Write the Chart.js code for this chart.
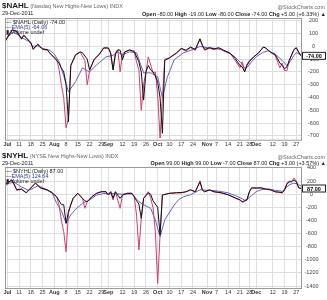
<!DOCTYPE html>
<html>
<head>
<meta charset="utf-8">
<script src="https://cdn.jsdelivr.net/npm/chart.js@4.4.0/dist/chart.umd.min.js"></script>
<style>
body{margin:0;background:#fff;width:327px;height:300px;position:relative;overflow:hidden;font-family:"Liberation Sans",Arial,sans-serif;color:#222}
.panel{position:absolute;left:0;width:327px;height:150px}
.panel canvas{position:absolute;left:0;top:0}
.t{position:absolute;white-space:nowrap;line-height:1;font-size:5.5px}
.big{font-size:8px;font-weight:bold}
.g{color:#666}
.blue{color:#2a3a9a}
</style>
</head>
<body>
<div class="panel" style="top:0">
  <canvas id="topChart" width="327" height="150"></canvas>
  <div class="t" style="left:2px;top:2px"><span class="big">$NAHL</span> <span class="g">(Nasdaq New Highs-New Lows) INDX</span></div>
  <div class="t" style="left:2px;top:11px">29-Dec-2011</div>
  <div class="t g" style="right:2px;top:5px">@StockCharts.com</div>
  <div class="t" style="right:1px;top:11.5px"><b>Open</b> -80.00 <b>High</b> -19.00 <b>Low</b> -80.00 <b>Close</b> -74.00 <b>Chg</b> +5.00 (+6.33%) ▲</div>
  <div class="t" style="left:6px;top:19.5px">— $NAHL (Daily) -74.00</div>
  <div class="t blue" style="left:6px;top:24.5px">—EMA(5) -64.06</div>
  <div class="t" style="left:6px;top:29.5px">▮ Volume undef</div>
</div>
<div class="panel" style="top:150px">
  <canvas id="botChart" width="327" height="150"></canvas>
  <div class="t" style="left:2px;top:2px"><span class="big">$NYHL</span> <span class="g">(NYSE New Highs-New Lows) INDX</span></div>
  <div class="t" style="left:2px;top:10.5px">29-Dec-2011</div>
  <div class="t g" style="right:2px;top:5px">@StockCharts.com</div>
  <div class="t" style="right:1px;top:11px"><b>Open</b> 99.00 <b>High</b> 99.00 <b>Low</b> -7.00 <b>Close</b> 87.00 <b>Chg</b> +3.00 (+3.57%) ▲</div>
  <div class="t" style="left:6px;top:18.5px">— $NYHL (Daily) 87.00</div>
  <div class="t blue" style="left:6px;top:23.5px">—EMA(5) 124.64</div>
  <div class="t" style="left:6px;top:28.5px">▮ Volume undef</div>
</div>
<script>
// trading day index: 0 = 1-Jul-2011 ... 125 = 29-Dec-2011
const tickDays = [0,5,10,15,20,25,30,35,40,43,49,54,59,64,69,74,79,85,89,94,99,103,106,113,118,123];
const tickText = ['Jul','11','18','25','Aug','8','15','22','29','Sep','12','19','26','Oct','10','17','24','Nov','7','14','21','28','Dec','12','19','27'];

// $NAHL  [day, value]
const nahlLine = [[-1,40],[2,130],[4,120],[6,60],[7,85],[10,30],[11,-20],[13,15],[15,-20],[17,-25],[18,-50],[20,-90],[22,-130],[23,-170],[24,-200],[25,-300],[26,-590],[27,-150],[29,-66],[31,-43],[32,-50],[34,-100],[35,-184],[37,-100],[39,-66],[41,-12],[43,-12],[44,-50],[45,-184],[46,-60],[47,-27],[48,-30],[49,-105],[50,-43],[52,-27],[54,-40],[56,-121],[57,-200],[58,-420],[59,-199],[60,-150],[61,-184],[62,-200],[63,-230],[64,-280],[65,-400],[66,-680],[67,-110],[69,-90],[72,-50],[74,-15],[76,-30],[78,-5],[80,-25],[82,60],[83,10],[84,-25],[86,-10],[88,-20],[90,-10],[92,-30],[95,-55],[97,-95],[99,-150],[100,-160],[101,-200],[102,-150],[103,-120],[105,-80],[107,-50],[109,-5],[110,-12],[112,-45],[114,-65],[116,-130],[117,-150],[118,-175],[119,-160],[120,-110],[122,-25],[123,-10],[124,-45],[125,-74]];
const nahlRed = [[-1,35],[2,125],[4,115],[6,55],[7,90],[10,25],[11,-25],[13,20],[15,-25],[17,-30],[19,-70],[21,-100],[22,-180],[23,-300],[24,-400],[25,-637],[26,-560],[27,-150],[29,-70],[31,-45],[33,-110],[34,-300],[35,-190],[37,-100],[39,-66],[41,-12],[43,-15],[44,-60],[45,-184],[46,-50],[47,-27],[48,-199],[49,-60],[50,-45],[52,-30],[54,-40],[55,-121],[56,-184],[57,-500],[58,-300],[59,-200],[60,-82],[62,-207],[63,-200],[64,-379],[65,-717],[66,-400],[67,-100],[69,-90],[72,-55],[74,-20],[76,-35],[78,-10],[80,-30],[82,55],[83,5],[84,-30],[86,-15],[88,-25],[90,-15],[92,-35],[95,-60],[97,-110],[99,-168],[100,-120],[101,-200],[102,-140],[103,-110],[105,-80],[107,-50],[109,-5],[110,-15],[112,-45],[114,-70],[116,-168],[117,-130],[118,-190],[119,-190],[120,-110],[122,-25],[123,-12],[124,-45],[125,-74]];
const nahlEma = [[-1,50],[2,105],[3,110],[6,70],[9,40],[11,0],[13,5],[15,-20],[18,-30],[20,-60],[22,-121],[24,-230],[26,-356],[29,-277],[32,-168],[34,-190],[35,-199],[38,-145],[42,-82],[45,-70],[47,-43],[49,-66],[52,-43],[55,-50],[58,-207],[61,-207],[64,-238],[66,-402],[68,-246],[71,-105],[75,-50],[79,-25],[82,0],[85,-10],[88,-15],[91,-25],[94,-45],[97,-85],[100,-140],[101,-170],[102,-165],[104,-120],[106,-80],[109,-45],[111,-35],[114,-60],[117,-110],[119,-150],[120,-130],[122,-70],[123,-50],[125,-64]];

// $NYHL  [day, value]
const nyhlLine = [[-1,150],[0,173],[2,218],[4,68],[6,80],[8,23],[10,98],[12,173],[14,98],[17,68],[19,23],[21,-38],[23,-158],[24,-160],[25,-444],[26,-267],[28,-63],[30,14],[32,-63],[33,-100],[34,-114],[36,-38],[38,14],[40,38],[42,38],[43,-12],[44,38],[45,-60],[46,38],[48,-63],[49,-12],[51,14],[53,14],[54,-38],[55,-100],[56,-150],[57,-368],[58,-63],[60,20],[61,0],[62,-100],[63,-150],[64,-200],[65,-622],[66,-12],[69,14],[72,23],[74,25],[76,38],[78,68],[80,38],[82,188],[83,68],[84,38],[86,68],[88,38],[91,23],[94,-8],[97,-55],[99,-85],[100,-113],[101,-100],[102,-83],[103,38],[104,98],[106,95],[108,98],[110,80],[112,68],[114,38],[116,30],[117,23],[118,68],[119,150],[120,188],[121,190],[122,218],[123,190],[124,100],[125,87]];
const nyhlRed = [[-1,140],[0,165],[2,215],[4,60],[6,75],[8,20],[10,90],[12,165],[14,95],[17,60],[19,20],[21,-40],[22,-165],[23,-400],[24,-572],[25,-877],[26,-300],[27,-150],[28,-63],[30,14],[32,-63],[33,-215],[34,-114],[36,-38],[38,14],[40,38],[42,38],[43,-12],[44,38],[45,-88],[46,38],[48,-215],[49,-12],[51,14],[53,14],[54,-38],[55,-317],[56,-851],[57,-368],[58,-63],[60,38],[61,-63],[62,-200],[63,-572],[64,-1360],[65,-622],[66,-12],[69,14],[72,20],[74,20],[76,35],[78,65],[80,35],[82,205],[83,60],[84,35],[86,65],[88,35],[91,20],[94,-10],[97,-60],[99,-90],[100,-125],[101,-110],[102,-90],[103,30],[104,95],[106,90],[108,95],[110,75],[112,65],[114,35],[116,25],[117,20],[118,65],[119,170],[120,200],[121,195],[122,245],[123,200],[124,95],[125,87]];
const nyhlEma = [[-1,130],[1,170],[3,180],[6,110],[9,60],[11,90],[13,130],[15,100],[17,60],[19,30],[21,-139],[23,-250],[25,-444],[27,-317],[29,-230],[32,-139],[35,-88],[38,-12],[41,10],[44,10],[47,5],[50,0],[53,5],[56,-114],[58,-160],[61,-215],[63,-393],[65,-648],[67,-393],[71,-165],[73,-80],[75,-38],[78,-8],[82,68],[85,60],[88,55],[91,40],[94,20],[97,-20],[100,-70],[101,-90],[102,-85],[104,-20],[106,40],[108,68],[111,80],[114,60],[117,45],[119,110],[120,143],[122,170],[124,150],[125,125]];

const FONT = '"Liberation Sans", Arial, sans-serif';

function pts(list) {
  return list.map(p => ({ x: p[0], y: p[1] }));
}

// frame around the plot
const frame = {
  id: 'frame',
  afterDraw(chart) {
    const a = chart.chartArea, c = chart.ctx;
    c.save();
    c.strokeStyle = '#9a9a9a';
    c.lineWidth = 1;
    c.strokeRect(a.left + 0.5, a.top + 0.5, a.right - a.left, a.bottom - a.top);
    c.restore();
  }
};

// box with the last close on the right axis
const lastBox = {
  id: 'lastBox',
  afterDraw(chart, args, opts) {
    const y = chart.scales.y.getPixelForValue(opts.value);
    const c = chart.ctx;
    c.save();
    c.fillStyle = '#fff';
    c.strokeStyle = '#222';
    c.lineWidth = 1;
    c.fillRect(302, y - 4, 24, 8);
    c.strokeRect(302.5, y - 3.5, 23, 7);
    c.fillStyle = '#000';
    c.font = 'bold 5.5px ' + FONT;
    c.textAlign = 'center';
    c.textBaseline = 'middle';
    c.fillText(opts.text, 314, y + 0.5);
    c.restore();
  }
};

function makeChart(id, o) {
  return new Chart(document.getElementById(id), {
    type: 'line',
    data: {
      datasets: [
        { data: pts(o.line), borderColor: '#111', borderWidth: 1 },
        { data: pts(o.red), borderColor: '#d63c6c', borderWidth: 1 },
        { data: pts(o.ema), borderColor: '#5e64cc', borderWidth: 1 }
      ]
    },
    options: {
      responsive: false,
      animation: false,
      parsing: false,
      elements: { point: { radius: 0 }, line: { tension: 0 } },
      layout: { padding: { left: 5, top: o.top, right: 0, bottom: 0 } },
      plugins: {
        legend: { display: false },
        tooltip: { enabled: false },
        lastBox: { value: o.last, text: o.lastText }
      },
      scales: {
        x: {
          type: 'linear', min: -1, max: 125,
          afterBuildTicks: ax => { ax.ticks = tickDays.map(v => ({ value: v })); },
          afterFit: ax => { ax.height = o.xh; },
          ticks: {
            autoSkip: false, maxRotation: 0, padding: 1.5, color: '#333',
            font: ctx => ({ family: FONT, size: 5.5, weight: isNaN(+tickText[ctx.index]) ? 'bold' : 'normal' }),
            callback: (v, i) => tickText[i]
          },
          grid: { color: '#dedede', drawTicks: false },
          border: { display: false }
        },
        y: {
          position: 'right', min: o.min, max: o.max,
          afterFit: ax => { ax.width = 26; },
          ticks: {
            stepSize: o.step, includeBounds: false, padding: o.yPad, crossAlign: 'center',
            color: '#444', font: { family: FONT, size: 5.5 },
            callback: v => String(v)
          },
          grid: { color: '#dedede', drawTicks: false },
          border: { display: false }
        }
      }
    },
    plugins: [frame, lastBox]
  });
}

makeChart('topChart', {
  line: nahlLine, red: nahlRed, ema: nahlEma,
  min: -730, max: 222, step: 100, top: 18, xh: 10, yPad: 7,
  last: -74, lastText: '-74.00'
});
makeChart('botChart', {
  line: nyhlLine, red: nyhlRed, ema: nyhlEma,
  min: -1430, max: 415, step: 200, top: 17, xh: 12, yPad: 3.5,
  last: 87, lastText: '87.00'
});
</script>
</body>
</html>
